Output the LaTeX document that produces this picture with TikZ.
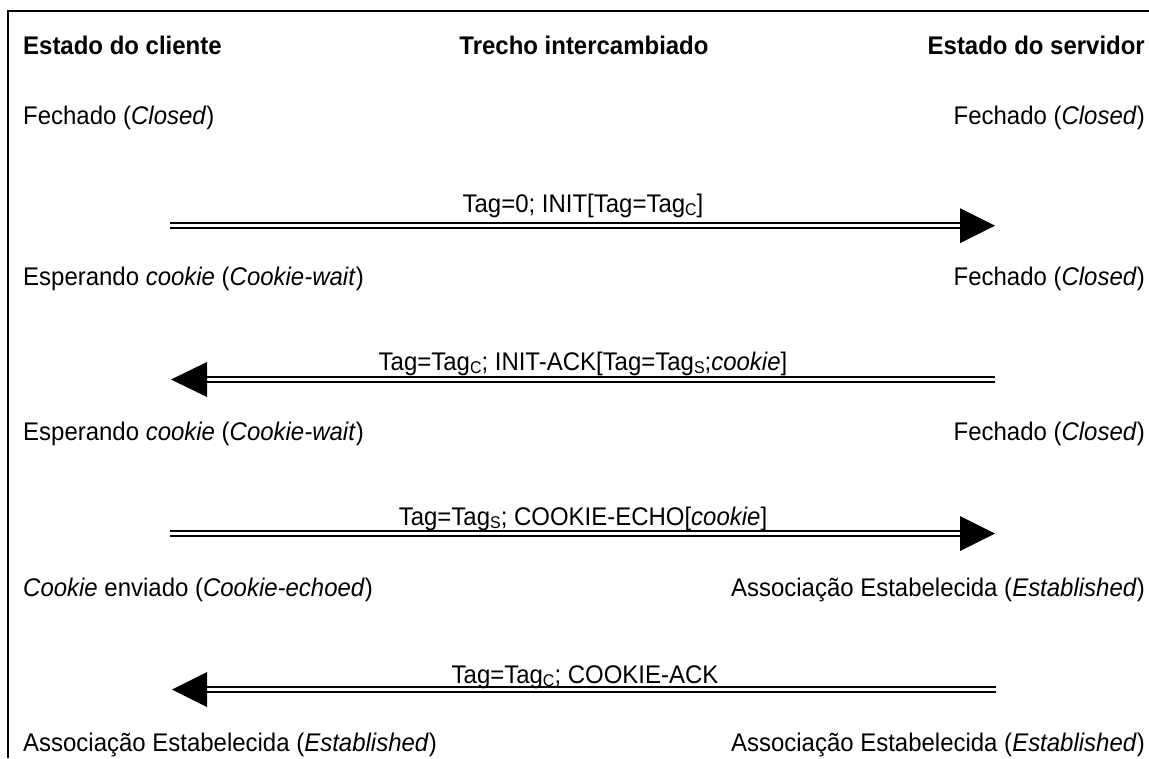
\documentclass[tikz,border=0pt]{standalone}
\usepackage{fontspec}
\setmainfont[FakeStretch=0.94]{Liberation Sans}
% small lowered capital used for the tag indices
\newcommand{\lowsub}[1]{\raisebox{-3pt}{\fontsize{17}{17}\selectfont #1}}
\begin{document}
\begin{tikzpicture}[x=1pt,y=-1pt,
  txt/.style={inner sep=0pt, font=\fontsize{25.5}{28}\selectfont},
  hdr/.style={inner sep=0pt, font=\fontsize{25.5}{28}\selectfont\bfseries},
  lft/.style={txt, anchor=base west},
  rgt/.style={txt, anchor=base east},
  mid/.style={txt, anchor=base},
  msg/.style={double, line width=2pt, double distance=3.4pt},
  headfill/.style={fill=black, draw=none}]
\useasboundingbox (0,0) rectangle (1149,758);

% frame
\draw[line width=2pt] (8.3,758) -- (8.3,11) -- (1149,11);

% column headers
\node[hdr, anchor=base west] (hcli) at (23,54) {Estado do cliente};
\node[hdr, anchor=base] (hmsg) at (584,54) {Trecho intercambiado};
\node[hdr, anchor=base east] (hsrv) at (1145,54) {Estado do servidor};

% states, row 1
\node[lft] (c1) at (23,124) {Fechado (\textit{Closed})};
\node[rgt] (s1) at (1145,124) {Fechado (\textit{Closed})};

% message 1: client -> server
\coordinate (m1a) at (170,225.7);
\coordinate (m1b) at (960,225.7);
\coordinate (m1t) at (995,225.7);
\draw[msg] (m1a) -- (m1b);
\fill[headfill] (m1t) -- ([yshift=-17.5pt]m1b) -- ([yshift=17.5pt]m1b) -- cycle;
\node[mid] (l1) at (583,212) {Tag=0; INIT[Tag=Tag\lowsub{C}]};

% states, row 2
\node[lft] (c2) at (23,285) {Esperando \textit{cookie} (\textit{Cookie-wait})};
\node[rgt] (s2) at (1145,285) {Fechado (\textit{Closed})};

% message 2: server -> client
\coordinate (m2a) at (995,379.5);
\coordinate (m2b) at (207,379.5);
\coordinate (m2t) at (171,379.5);
\draw[msg] (m2a) -- (m2b);
\fill[headfill] (m2t) -- ([yshift=-17.5pt]m2b) -- ([yshift=17.5pt]m2b) -- cycle;
\node[mid] (l2) at (583,370) {Tag=Tag\lowsub{C}; INIT-ACK[Tag=Tag\lowsub{S};\textit{cookie}]};

% states, row 3
\node[lft] (c3) at (23,440) {Esperando \textit{cookie} (\textit{Cookie-wait})};
\node[rgt] (s3) at (1145,440) {Fechado (\textit{Closed})};

% message 3: client -> server
\coordinate (m3a) at (170,533.5);
\coordinate (m3b) at (960,533.5);
\coordinate (m3t) at (995,533.5);
\draw[msg] (m3a) -- (m3b);
\fill[headfill] (m3t) -- ([yshift=-17.5pt]m3b) -- ([yshift=17.5pt]m3b) -- cycle;
\node[mid] (l3) at (583,525) {Tag=Tag\lowsub{S}; COOKIE-ECHO[\textit{cookie}]};

% states, row 4
\node[lft] (c4) at (23,596) {\textit{Cookie} enviado (\textit{Cookie-echoed})};
\node[rgt] (s4) at (1145,596) {Associação Estabelecida (\textit{Established})};

% message 4: server -> client
\coordinate (m4a) at (996,689.5);
\coordinate (m4b) at (207,689.5);
\coordinate (m4t) at (172,689.5);
\draw[msg] (m4a) -- (m4b);
\fill[headfill] (m4t) -- ([yshift=-17.5pt]m4b) -- ([yshift=17.5pt]m4b) -- cycle;
\node[mid] (l4) at (585,683) {Tag=Tag\lowsub{C}; COOKIE-ACK};

% states, row 5
\node[lft] (c5) at (23,751) {Associação Estabelecida (\textit{Established})};
\node[rgt] (s5) at (1145,751) {Associação Estabelecida (\textit{Established})};
\end{tikzpicture}
\end{document}
